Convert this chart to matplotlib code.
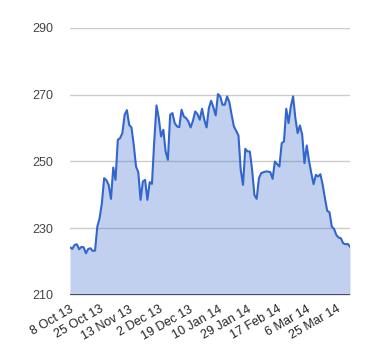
import matplotlib
matplotlib.use('Agg')
import matplotlib.pyplot as plt
import numpy as np

# closing values, one per trading day
values = [
    224.3, 223.8, 225.0, 225.2, 223.7, 224.4, 224.3, 222.5, 223.8, 224.0,
    223.2, 223.3, 230.5, 233.0, 237.5, 245.0, 244.4, 243.0, 238.8, 248.2,
    244.5, 256.5, 257.0, 258.5, 264.0, 265.4, 261.0, 260.2, 255.0, 248.5,
    246.8,
    238.5, 244.0, 244.5, 238.5, 243.8, 243.3, 256.0, 266.8, 263.0, 257.5,
    259.5, 253.0, 250.5, 264.0, 264.5, 261.5, 260.5, 260.3, 265.5, 263.5,
    263.0, 262.0, 260.2, 262.2, 265.0, 264.2, 262.5, 265.8, 262.5, 260.2,
    266.0,
    268.2, 266.2, 263.8, 270.2, 269.5, 267.0, 267.0, 269.5, 267.8, 264.0,
    260.5, 259.2, 257.8, 247.5, 243.0, 253.8, 253.0, 253.0, 247.5, 240.0,
    238.8, 245.0, 246.5, 246.8, 247.0, 247.0, 246.8, 244.8, 250.0, 249.2,
    248.5, 255.5, 256.0, 265.8, 261.5, 266.5, 269.5, 263.0, 258.5, 260.8,
    258.0, 249.5, 254.8, 250.2, 246.5, 243.2, 246.0, 245.5, 246.2, 243.0,
    239.0, 235.2, 234.8, 230.5, 229.8, 228.0, 227.2, 227.0, 225.5, 225.2,
    225.3, 224.5,
]

tick_labels = ['8 Oct 13', '25 Oct 13', '13 Nov 13', '2 Dec 13', '19 Dec 13',
               '10 Jan 14', '29 Jan 14', '17 Feb 14', '6 Mar 14', '25 Mar 14']
tick_step = 13
y_ticks = [210, 230, 250, 270, 290]

plt.rcParams['font.family'] = ['Liberation Sans', 'DejaVu Sans']

fig = plt.figure(figsize=(3.8, 3.6), dpi=100)
ax = fig.add_axes([70 / 380, 1 - 295 / 360, 280 / 380, 267 / 360])

x = np.arange(len(values))
ax.fill_between(x, values, 210, color='#3366cc', alpha=0.3, linewidth=0)
ax.plot(x, values, color='#3366cc', linewidth=1.5, solid_joinstyle='round')

ax.set_xlim(0, len(values) - 1)
ax.set_ylim(210, 290)

for t in y_ticks[1:]:
    ax.axhline(t, color='#cccccc', linewidth=1, zorder=0)
ax.axhline(210, color='#333333', linewidth=1.2, zorder=3)

for s in ax.spines.values():
    s.set_visible(False)

ax.set_yticks(y_ticks)
ax.set_yticklabels([str(t) for t in y_ticks], color='#444444', fontsize=9)
ax.tick_params(axis='y', length=0, pad=12)

ax.set_xticks(np.arange(len(tick_labels)) * tick_step)
ax.set_xticklabels(tick_labels, rotation=30, ha='right', va='top',
                   rotation_mode='anchor', color='#222222', fontsize=9)
ax.tick_params(axis='x', length=0, pad=6)

fig.savefig('out.png', dpi=100)
